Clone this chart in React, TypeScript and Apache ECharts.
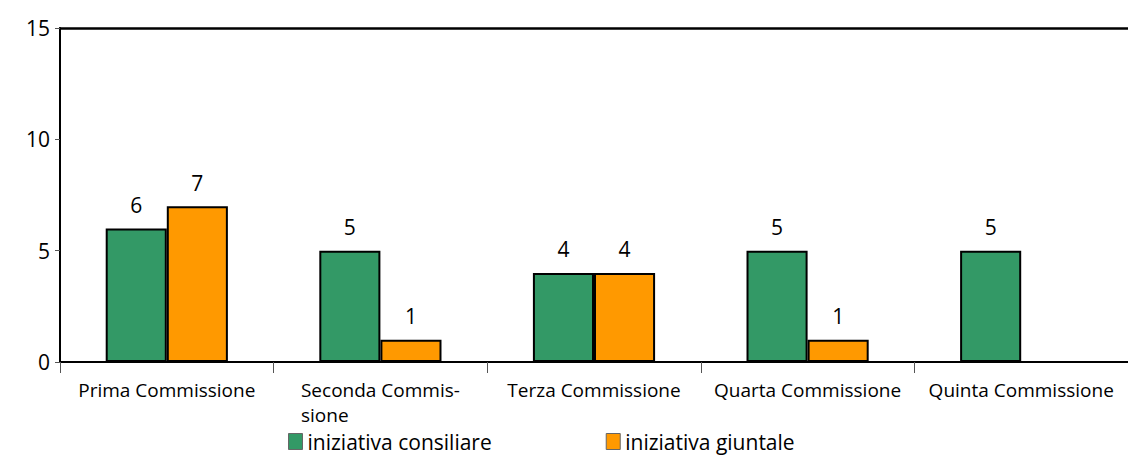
import React, { useEffect, useRef } from "react";
import * as echarts from "echarts";

const categories = [
  "Prima Commissione",
  "Seconda Commis-\nsione",
  "Terza Commissione",
  "Quarta Commissione",
  "Quinta Commissione",
];
const consiliare = [6, 5, 4, 5, 5];
const giuntale = [7, 1, 4, 1, 0];
const yTicks = [0, 5, 10, 15];

const FONT = "'Open Sans', 'Noto Sans', sans-serif";

export default function App() {
  const ref = useRef<HTMLDivElement>(null);
  useEffect(() => {
    document.body.style.margin = "0";
    const chart = echarts.init(ref.current!, null, { renderer: "svg" });
    const label = {
      show: true,
      position: "top" as const,
      color: "#000",
      fontSize: 21,
      fontFamily: FONT,
      distance: 13,
      formatter: (p: any) => (p.value ? String(p.value) : ""),
    };
    chart.setOption({
      animation: false,
      textStyle: { fontFamily: FONT },
      grid: {
        left: 60,
        right: 0,
        top: 28,
        bottom: 97,
        show: false,
      },
      legend: {
        bottom: 2,
        left: 283,
        itemWidth: 14,
        itemHeight: 16,
        itemGap: 114,
        icon: "rect",
        textStyle: { fontSize: 21, color: "#000", fontFamily: FONT },
        itemStyle: { borderColor: "#666", borderWidth: 1 },
        data: ["iniziativa consiliare", "iniziativa giuntale"],
      },
      xAxis: [
        {
          type: "category",
          data: categories,
          axisLine: { lineStyle: { color: "#000", width: 2 } },
          axisTick: { show: true, length: 11, lineStyle: { color: "#555" } },
          axisLabel: {
            interval: 0,
            color: "#000",
            margin: 15,
            formatter: (v: string) =>
              v
                .split("\n")
                .map((s) => `{a|${s}}`)
                .join("\n"),
            rich: {
              a: {
                fontSize: 19,
                fontFamily: FONT,
                color: "#000",
                align: "left",
                lineHeight: 25,
              },
            },
          },
        },
        {
          type: "category",
          position: "top",
          data: categories,
          axisLine: { show: true, lineStyle: { color: "#000", width: 2.5 } },
          axisTick: { show: false },
          axisLabel: { show: false },
        },
      ],
      yAxis: {
        type: "value",
        min: 0,
        max: 15,
        interval: 5,
        axisLine: { show: true, lineStyle: { color: "#000", width: 2 } },
        axisTick: { show: true, length: 5, lineStyle: { color: "#555" } },
        splitLine: { show: false },
        axisLabel: {
          color: "#000",
          fontSize: 21,
          fontFamily: FONT,
          margin: 10,
          formatter: (v: number) => (yTicks.includes(v) ? String(v) : ""),
        },
      },
      series: [
        {
          name: "iniziativa consiliare",
          type: "bar",
          data: consiliare,
          barWidth: "28.6%",
          barGap: "0%",
          itemStyle: { color: "#339966", borderColor: "#000", borderWidth: 2 },
          label,
        },
        {
          name: "iniziativa giuntale",
          type: "bar",
          data: giuntale,
          barWidth: "28.6%",
          itemStyle: { color: "#FF9900", borderColor: "#000", borderWidth: 2 },
          label,
        },
      ],
    });
    return () => chart.dispose();
  }, []);
  return <div ref={ref} style={{ width: 1128, height: 459 }} />;
}
